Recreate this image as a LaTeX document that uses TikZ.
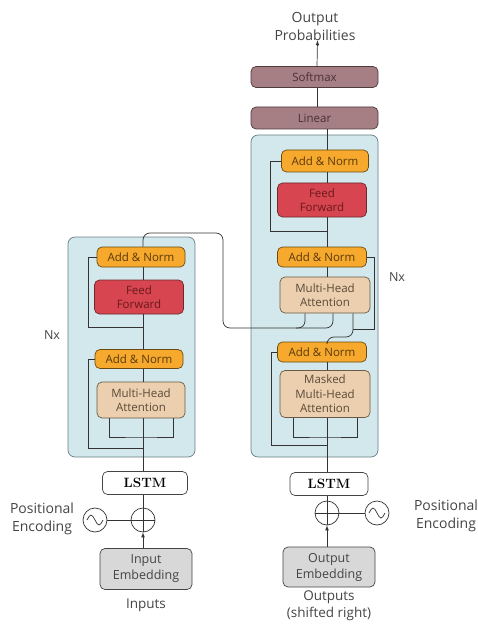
\documentclass[tikz,border=0pt]{standalone}
\usepackage{fontspec}
\newfontfamily\labfont{Open Sans}
\definecolor{blockblue}{HTML}{D3E8EC}
\definecolor{blockborder}{HTML}{6A7F85}
\definecolor{anfill}{HTML}{F6A92D}
\definecolor{anborder}{HTML}{6B4A10}
\definecolor{antext}{HTML}{5A3A0A}
\definecolor{fffill}{HTML}{D64550}
\definecolor{ffborder}{HTML}{6B2A2A}
\definecolor{fftext}{HTML}{6B1A1A}
\definecolor{mhafill}{HTML}{EBCFAE}
\definecolor{mhaborder}{HTML}{6B5A45}
\definecolor{mhatext}{HTML}{5A4A3A}
\definecolor{linfill}{HTML}{A67F84}
\definecolor{linborder}{HTML}{4D3A3C}
\definecolor{lintext}{HTML}{4A3035}
\definecolor{embfill}{HTML}{D8D8D8}
\definecolor{linecol}{HTML}{333333}
\definecolor{labcol}{HTML}{444444}
\begin{document}
\begin{tikzpicture}[x=1pt,y=-1pt,
  base/.style={rounded corners=5pt, line width=0.7pt, inner sep=1pt, align=center,
    font=\labfont\fontsize{11.5}{14}\selectfont},
  blockbox/.style={base, fill=blockblue, draw=blockborder, rounded corners=7pt},
  addnorm/.style={base, fill=anfill, draw=anborder, text=antext, minimum width=88pt, minimum height=20pt},
  ffbox/.style={base, fill=fffill, draw=ffborder, text=fftext, minimum width=89pt, minimum height=34pt},
  mhabox/.style={base, fill=mhafill, draw=mhaborder, text=mhatext, minimum width=90pt, minimum height=36pt},
  linbox/.style={base, fill=linfill, draw=linborder, text=lintext, minimum width=127pt, minimum height=21pt},
  lstmbox/.style={base, fill=white, draw=labcol, text=black, font=\rmfamily\bfseries\fontsize{13.5}{15}\selectfont, minimum height=23pt},
  embbox/.style={base, fill=embfill, draw=labcol, text=labcol, minimum width=92pt, minimum height=41pt, font=\labfont\fontsize{12.5}{16}\selectfont},
  lab/.style={align=center, text=labcol, inner sep=0pt, font=\labfont\fontsize{14}{18}\selectfont},
  conn/.style={draw=linecol, line width=0.7pt},
  arr/.style={conn, -latex},
  circ/.style={circle, draw=linecol, line width=0.7pt, minimum size=24pt, inner sep=0pt, fill=white}
]
\useasboundingbox (0,0) rectangle (478,628);
% ---------------- Encoder ----------------
\node[blockbox, minimum width=127pt, minimum height=220pt] (eblk) at (131.5,347) {};
\node[addnorm] (eAN2) at (141,257) {Add \& Norm};
\node[ffbox] (eFF) at (139,297) {Feed\\Forward};
\node[addnorm, minimum height=19pt] (eAN1) at (139,359) {Add \& Norm};
\node[mhabox, minimum width=88pt] (eMHA) at (141,400) {Multi-Head\\Attention};
\node[lstmbox, minimum width=85pt] (eLSTM) at (145,483) {LSTM};
\node[circ] (ePlus) at (143,520) {};
\node[circ] (eSin) at (95,520) {};
\node[embbox] (eEmb) at (146,569) {Input\\Embedding};
\node[lab] (ePE) at (42,519) {Positional\\Encoding};
\node[lab, font=\labfont\fontsize{13.5}{17}\selectfont] (eIn) at (146,605) {Inputs};
\node[lab, font=\labfont\fontsize{12.5}{17}\selectfont] (eNx) at (52,335) {Nx};
% ---------------- Decoder ----------------
\node[blockbox, minimum width=127pt, minimum height=322pt] (dblk) at (314.5,296) {};
\node[linbox] (dSoft) at (314.5,77) {Softmax};
\node[linbox, minimum height=22pt] (dLin) at (314.5,118) {Linear};
\node[addnorm, minimum width=87pt, minimum height=22pt] (dAN3) at (325,161) {Add \& Norm};
\node[ffbox] (dFF) at (322,200) {Feed\\Forward};
\node[addnorm, minimum width=89pt] (dAN2) at (322,257) {Add \& Norm};
\node[mhabox] (dMHA) at (325,295) {Multi-Head\\Attention};
\node[addnorm, minimum width=89pt] (dAN1) at (322,352) {Add \& Norm};
\node[mhabox, minimum height=47pt, font=\labfont\fontsize{11.5}{14.5}\selectfont] (dMMHA) at (325,394) {Masked\\Multi-Head\\Attention};
\node[lstmbox, minimum width=78pt] (dLSTM) at (329,484) {LSTM};
\node[circ] (dPlus) at (327,513) {};
\node[circ] (dSin) at (377,513) {};
\node[embbox, minimum height=40pt] (dEmb) at (329,567) {Output\\Embedding};
\node[lab] (dOP) at (315,26) {Output\\Probabilities};
\node[lab] (dPE) at (446,516) {Positional\\Encoding};
\node[lab, font=\labfont\fontsize{13.5}{17}\selectfont] (dOut) at (329,606) {Outputs\\(shifted right)};
\node[lab, font=\labfont\fontsize{12.5}{17}\selectfont] (dNx) at (397,277) {Nx};
% ---------------- circle symbols ----------------
\foreach \c in {ePlus,dPlus}{
  \draw[conn] (\c.north) -- (\c.south);
  \draw[conn] (\c.west) -- (\c.east);
}
\foreach \c in {eSin,dSin}{
  \draw[conn] ([xshift=-8pt]\c.center) sin ([xshift=-4pt,yshift=5pt]\c.center) cos (\c.center)
     sin ([xshift=4pt,yshift=-5pt]\c.center) cos ([xshift=8pt]\c.center);
}
% ---------------- Encoder connectors ----------------
\draw[arr] (eEmb.north -| ePlus) -- (ePlus.south);
\draw[conn] (eSin.east) -- (ePlus.west);
\draw[conn] (ePlus.north) -- (eLSTM.south -| ePlus);
\draw[conn] (eLSTM.north -| ePlus) -- (eMHA.south -| ePlus);
\draw[conn] (eMHA.north -| ePlus) -- (eAN1.south -| ePlus);
\draw[conn] (eAN1.north -| ePlus) -- (eFF.south -| ePlus);
\draw[conn] (eFF.north -| ePlus) -- (eAN2.south -| ePlus);
\draw[conn] ([xshift=-32pt]eMHA.south) |- (eMHA.south |- 0,437) -| ([xshift=32pt]eMHA.south);
\coordinate (eR1) at (143,448);
\coordinate (eR2) at (143,327);
\draw[conn] (eR1) -| (88,359) -- (eAN1.west);
\draw[conn] (eR2) -| (88,257) -- (eAN2.west);
% encoder output to decoder attention
\draw[conn, rounded corners=7pt] (eAN2.north -| ePlus) -- (143,233) -- (223,233) -- (223,328) -- (305,328) -- ([xshift=-20pt]dMHA.south);
\draw[conn, rounded corners=7pt] (296,328) -- (333,328) -- ([xshift=8pt]dMHA.south);
% ---------------- Decoder connectors ----------------
\draw[arr] (dEmb.north -| dPlus) -- (dPlus.south);
\draw[conn] (dSin.west) -- (dPlus.east);
\draw[conn] (dPlus.north) -- (dLSTM.south -| dPlus);
\draw[conn] (dLSTM.north -| dPlus) -- (dMMHA.south -| dPlus);
\draw[conn] (dMMHA.north -| dPlus) -- (dAN1.south -| dPlus);
\draw[conn] ([xshift=-32pt]dMMHA.south) |- (dMMHA.south |- 0,437) -| ([xshift=32pt]dMMHA.south);
\coordinate (dR1) at (327,445);
\draw[conn] (dR1) -| (271,352) -- (dAN1.west);
\draw[conn, rounded corners=7pt] (dAN1.north -| dPlus) -- (327,337) -- (353,337) -- ([xshift=28pt]dMHA.south);
\draw[conn] (353,329) -| (374,257) -- (dAN2.east);
\draw[conn] (dMHA.north -| dPlus) -- (dAN2.south -| dPlus);
\draw[conn] (dAN2.north -| dPlus) -- (dFF.south -| dPlus);
\draw[conn] (dFF.north -| dPlus) -- (dAN3.south -| dPlus);
\coordinate (dR2) at (327,231);
\draw[conn] (dR2) -| (270,161) -- (dAN3.west);
\draw[conn] (dAN3.north -| dPlus) -- (dLin.south -| dPlus);
\draw[conn] ([xshift=2.5pt]dLin.north) -- ([xshift=2.5pt]dSoft.south);
\draw[arr] ([xshift=2.5pt]dSoft.north) -- ([xshift=2.5pt]dOP.south);
\end{tikzpicture}
\end{document}
